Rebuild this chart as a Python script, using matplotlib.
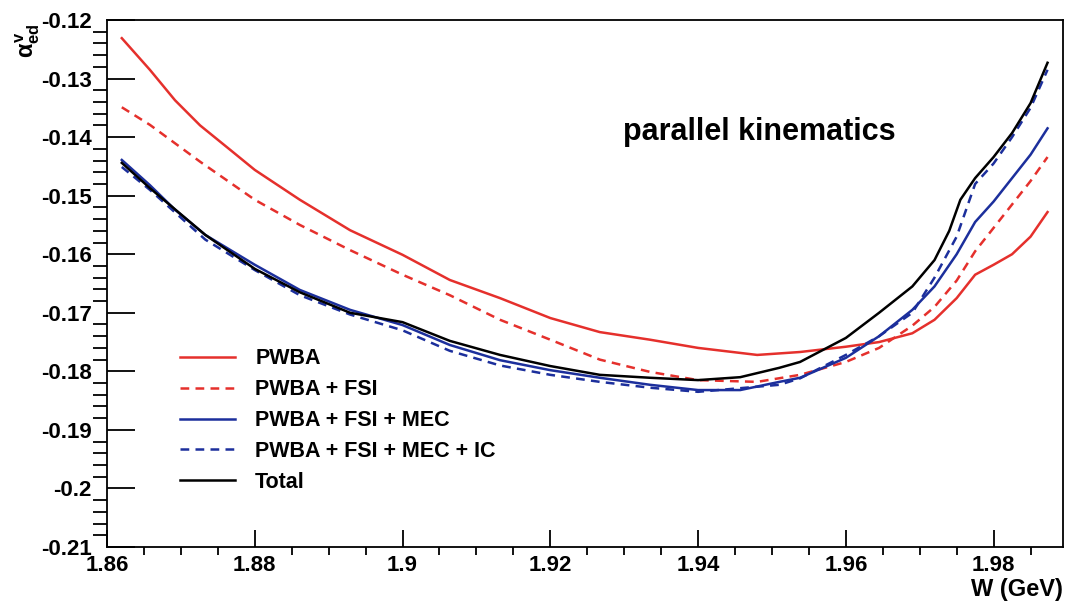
import matplotlib.pyplot as plt
from matplotlib.ticker import MultipleLocator

plt.rcParams['font.family'] = ['Liberation Sans', 'DejaVu Sans']
plt.rcParams['font.weight'] = 'bold'
plt.rcParams['mathtext.fontset'] = 'custom'
plt.rcParams['mathtext.rm'] = 'Liberation Sans:bold'
plt.rcParams['mathtext.it'] = 'Liberation Sans:bold'

# W (GeV) points for each curve
w_pwba = [1.862, 1.8658, 1.8692, 1.8726, 1.8767, 1.88, 1.8861, 1.8929, 1.90, 1.9064,
          1.9132, 1.92, 1.9267, 1.9335, 1.94, 1.948, 1.9538, 1.96, 1.9645, 1.9690,
          1.9720, 1.9750, 1.9775, 1.9800, 1.9825, 1.9850, 1.9873]
a_pwba = [-0.1231, -0.1285, -0.1337, -0.1380, -0.1422, -0.1456, -0.1507, -0.1559, -0.1601, -0.1644,
          -0.1675, -0.1709, -0.1733, -0.1746, -0.1760, -0.1772, -0.1767, -0.1758, -0.1750, -0.1735,
          -0.1712, -0.1675, -0.1635, -0.1618, -0.1600, -0.1570, -0.1528]

w_fsi = [1.862, 1.8658, 1.8726, 1.88, 1.8861, 1.8929, 1.90, 1.9064, 1.9132, 1.92,
         1.9267, 1.9335, 1.94, 1.948, 1.9538, 1.96, 1.9645, 1.9690, 1.9720, 1.9750,
         1.9775, 1.9800, 1.9825, 1.9850, 1.9873]
a_fsi = [-0.1349, -0.1379, -0.1442, -0.1507, -0.1550, -0.1593, -0.1635, -0.1670, -0.1712, -0.1746,
         -0.1780, -0.1801, -0.1815, -0.1818, -0.1806, -0.1784, -0.1760, -0.1722, -0.1690, -0.1645,
         -0.1595, -0.1555, -0.1515, -0.1475, -0.1434]

w_mec = [1.862, 1.8658, 1.8692, 1.8733, 1.88, 1.8861, 1.8929, 1.90, 1.9064, 1.9132,
         1.92, 1.9267, 1.9335, 1.94, 1.9457, 1.951, 1.9538, 1.96, 1.9645, 1.9690,
         1.9720, 1.9750, 1.9775, 1.9800, 1.9825, 1.9850, 1.9873]
a_mec = [-0.1439, -0.1482, -0.1524, -0.1567, -0.1618, -0.1661, -0.1695, -0.1721, -0.1755, -0.1781,
         -0.1798, -0.1811, -0.1823, -0.1832, -0.1832, -0.1818, -0.1811, -0.1777, -0.1740, -0.1695,
         -0.1655, -0.1600, -0.1545, -0.1510, -0.1470, -0.1430, -0.1385]

w_ic = [1.862, 1.8658, 1.8733, 1.88, 1.8861, 1.8929, 1.90, 1.9064, 1.9132, 1.92,
        1.9267, 1.9335, 1.94, 1.951, 1.9538, 1.96, 1.9645, 1.9690, 1.9720, 1.9750,
        1.9775, 1.9800, 1.9825, 1.9850, 1.9873]
a_ic = [-0.1451, -0.1490, -0.1575, -0.1627, -0.1670, -0.1703, -0.1730, -0.1765, -0.1790, -0.1806,
        -0.1818, -0.1828, -0.1835, -0.1823, -0.1812, -0.1772, -0.1740, -0.1700, -0.1640, -0.1570,
        -0.1480, -0.1445, -0.1400, -0.1350, -0.1285]

w_tot = [1.862, 1.8658, 1.8733, 1.88, 1.8861, 1.8929, 1.90, 1.9064, 1.9132, 1.92,
         1.9267, 1.9335, 1.94, 1.9457, 1.951, 1.9538, 1.96, 1.9645, 1.9690, 1.9720,
         1.9740, 1.9755, 1.9775, 1.9800, 1.9825, 1.9850, 1.9873]
a_tot = [-0.1444, -0.1487, -0.1567, -0.1625, -0.1665, -0.1700, -0.1716, -0.1748, -0.1772, -0.1791,
         -0.1806, -0.1811, -0.1815, -0.1810, -0.1794, -0.1784, -0.1743, -0.1700, -0.1655, -0.1610,
         -0.1560, -0.1507, -0.1470, -0.1434, -0.1393, -0.1342, -0.1273]

red = '#e5302c'
blue = '#1c2f9c'

fig = plt.figure(figsize=(10.67, 6.03), dpi=100)
ax = fig.add_axes([0.1003, 0.0929, 0.8960, 0.8739])

ax.plot(w_pwba, a_pwba, color=red, lw=1.8, label='PWBA')
ax.plot(w_fsi, a_fsi, color=red, lw=1.8, ls=(0, (3.5, 2.5)), label='PWBA + FSI')
ax.plot(w_mec, a_mec, color=blue, lw=1.8, label='PWBA + FSI + MEC')
ax.plot(w_ic, a_ic, color=blue, lw=1.8, ls=(0, (3.5, 2.5)), label='PWBA + FSI + MEC + IC')
ax.plot(w_tot, a_tot, color='black', lw=1.8, label='Total')

ax.set_xlim(1.86, 1.9894)
ax.set_ylim(-0.21, -0.12)
ax.xaxis.set_major_locator(MultipleLocator(0.02))
ax.xaxis.set_minor_locator(MultipleLocator(0.005))
ax.yaxis.set_major_locator(MultipleLocator(0.01))
ax.yaxis.set_minor_locator(MultipleLocator(0.002))
ax.xaxis.set_major_formatter(plt.FuncFormatter(lambda v, p: f'{v:.2f}'.rstrip('0')))
ax.yaxis.set_major_formatter(plt.FuncFormatter(lambda v, p: f'{v:.2f}'.rstrip('0')))
ax.tick_params(direction='in', labelsize=16, width=1.3)
ax.tick_params(axis='y', which='major', length=20, pad=11)
ax.tick_params(axis='y', which='minor', length=10, width=1.3)
ax.tick_params(axis='x', which='major', length=12, pad=6)
ax.tick_params(axis='x', which='minor', length=6, width=1.3)
for s in ax.spines.values():
    s.set_linewidth(1.3)

ax.text(0.682, 0.787, 'parallel kinematics', transform=ax.transAxes, ha='center',
        va='center', fontsize=22, fontweight='bold')
ax.text(1.0, -0.058, 'W (GeV)', transform=ax.transAxes, ha='right', va='top',
        fontsize=17, fontweight='bold')
fig.text(0.012, 0.962, r'$\alpha^{v}_{ed}$', rotation=90, ha='left', va='top', fontsize=17)

leg = ax.legend(loc='upper left', bbox_to_anchor=(0.0764, 0.377), frameon=False,
                prop={'size': 15.5, 'weight': 'bold'}, handlelength=2.56,
                labelspacing=0.46, handletextpad=0.93, borderpad=0, borderaxespad=0)

fig.savefig('out.png', dpi=100)
